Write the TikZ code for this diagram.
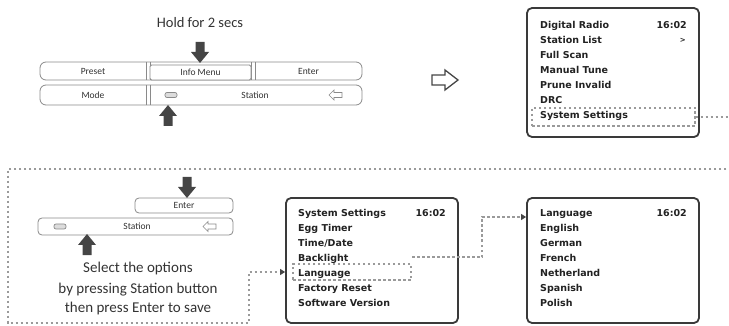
\documentclass[tikz,border=0pt]{standalone}
\usepackage{fontspec}
\setmainfont{Carlito}
\newfontfamily\menufont{DejaVu Sans}
\usetikzlibrary{arrows.meta}
\definecolor{arrowc}{HTML}{454545}
\definecolor{btnc}{HTML}{8A8A8A}
\definecolor{boxc}{HTML}{3A3A3A}
\definecolor{dotc}{HTML}{9A9A9A}
\definecolor{txtc}{HTML}{333333}
\definecolor{menuc}{HTML}{222222}
\begin{document}
\begin{tikzpicture}[x=1pt,y=-1pt,
  btn/.style={draw=btnc, line width=0.8pt, fill=white},
  btnlabel/.style={font=\fontsize{9.5}{12}\selectfont, text=txtc, inner sep=0pt},
  icon/.style={draw=btnc, line width=0.7pt},
  menubox/.style={draw=boxc, line width=1.8pt, rounded corners=5pt, fill=white, inner sep=0pt},
  menutext/.style={font=\menufont\bfseries\fontsize{9.5}{11}\selectfont, text=menuc, anchor=base west, inner sep=0pt},
  menutime/.style={menutext, anchor=base east},
  hlbox/.style={draw=dotc, line width=1.1pt, dash pattern=on 2.5pt off 2.5pt, inner sep=0pt},
  link/.style={draw=dotc, line width=1.1pt, dash pattern=on 2.5pt off 2.5pt, -{Triangle[length=5pt,width=6pt,color=arrowc]}},
  bigtext/.style={font=\fontsize{15}{20}\selectfont, text=txtc, align=center, inner sep=0pt},
  dnarrow/.pic={\fill[arrowc] (-4.5,-10) -- (4.5,-10) -- (4.5,0) -- (9,0) -- (0,11) -- (-9,0) -- (-4.5,0) -- cycle;},
  larrow/.pic={\draw[icon, fill=white] (-7,0) -- (-2,-5) -- (-2,-2.5) -- (6,-2.5) -- (6,2.5) -- (-2,2.5) -- (-2,5) -- cycle;},
  pill/.pic={\draw[icon, fill=btnc!30, rounded corners=2pt] (-6,-2.5) rectangle (6,2.5);},
  hollowr/.pic={\draw[arrowc, line width=1.3pt, line join=miter] (-13,-5) -- (0,-5) -- (0,-10) -- (13,0) -- (0,10) -- (0,5) -- (-13,5) -- cycle;}
]
\useasboundingbox (0,0) rectangle (729,326);
\clip (0,0) rectangle (729,326);

% ---------- top-left: buttons ----------
\node[font=\fontsize{14.5}{18}\selectfont, text=txtc, inner sep=0pt] (hold) at (200,23) {Hold for 2 secs};

\draw[btn, rounded corners=6pt] (40,62) rectangle (362,80);
\draw[btn] (146,62) -- (146,80) (150,62) -- (150,80) (251,62) -- (251,80) (255,62) -- (255,80);
\draw[btn, rounded corners=1.5pt] (150,65) rectangle (251,80);
\node[btnlabel] (preset) at (93,71.5) {Preset};
\node[btnlabel] (info) at (200.5,72) {Info Menu};
\node[btnlabel] (enter1) at (308.5,71.5) {Enter};

\draw[btn, rounded corners=6pt] (40,85) rectangle (362,105);
\draw[btn] (146,85) -- (146,105) (150,85) -- (150,105);
\node[btnlabel] (mode) at (93,95.5) {Mode};
\node[btnlabel] (station1) at (255,95.5) {Station};
\pic at (171,95) {pill};
\pic at (336,95) {larrow};

\pic at (200,52) {dnarrow};
\pic[rotate=180] at (168,116) {dnarrow};

% hollow arrow between panels
\pic at (445,80) {hollowr};

% ---------- menu 1 ----------
\node[menubox, minimum width=172pt, minimum height=129pt] (m1) at (613,72.5) {};
\node[hlbox, minimum width=163pt, minimum height=18pt] (hl1) at (613.5,117) {};
\node[menutext] (m1r1) at (540,28.5) {Digital Radio};
\node[menutime] (m1t) at (687,28.5) {16:02};
\node[menutext] (m1r2) at (540,43.5) {Station List};
\node[menutime, font=\menufont\bfseries\fontsize{7}{9}\selectfont] (m1gt) at (686,42.5) {>};
\node[menutext] (m1r3) at (540,58.5) {Full Scan};
\node[menutext] (m1r4) at (540,73.5) {Manual Tune};
\node[menutext] (m1r5) at (540,88.5) {Prune Invalid};
\node[menutext] (m1r6) at (540,103.5) {DRC};
\node[menutext] (m1r7) at (540,118.5) {System Settings};

% ---------- bottom-left: buttons ----------
\draw[btn, rounded corners=4pt] (135,198) rectangle (233,213);
\node[btnlabel] (enter2) at (184,205.5) {Enter};
\draw[btn, rounded corners=4pt] (38,218) rectangle (233,235);
\node[btnlabel] (station2) at (137,226.5) {Station};
\pic at (60,226.5) {pill};
\pic at (210,226.5) {larrow};
\pic at (187,187) {dnarrow};
\pic[rotate=180] at (87,245) {dnarrow};
\node[bigtext] (select) at (138,289) {Select the options\\by pressing Station button\\then press Enter to save};

% ---------- menu 2 ----------
\node[menubox, minimum width=172pt, minimum height=125pt] (m2) at (372,260.5) {};
\node[hlbox, minimum width=118pt, minimum height=16pt] (hl2) at (352,272) {};
\node[menutext] (m2r1) at (298,216.5) {System Settings};
\node[menutime] (m2t) at (446,216.5) {16:02};
\node[menutext] (m2r2) at (298,231.5) {Egg Timer};
\node[menutext] (m2r3) at (298,246.5) {Time/Date};
\node[menutext] (m2r4) at (298,261.5) {Backlight};
\node[menutext] (m2r5) at (298,276.5) {Language};
\node[menutext] (m2r6) at (298,291.5) {Factory Reset};
\node[menutext] (m2r7) at (298,306.5) {Software Version};

% ---------- menu 3 ----------
\node[menubox, minimum width=172pt, minimum height=125pt] (m3) at (613,260.5) {};
\node[menutext] (m3r1) at (540,216.5) {Language};
\node[menutime] (m3t) at (687,216.5) {16:02};
\node[menutext] (m3r2) at (540,231.5) {English};
\node[menutext] (m3r3) at (540,246.5) {German};
\node[menutext] (m3r4) at (540,261.5) {French};
\node[menutext] (m3r5) at (540,276.5) {Netherland};
\node[menutext] (m3r6) at (540,291.5) {Spanish};
\node[menutext] (m3r7) at (540,306.5) {Polish};

% ---------- connectors ----------
\coordinate (c1a) at (740,117);
\coordinate (c1b) at (740,169);
\coordinate (c1c) at (8,169);
\coordinate (c1d) at (8,323);
\coordinate (c1e) at (249,323);
\coordinate (c1f) at (249,272);
\draw[link] (hl1.east) -- (c1a) -- (c1b) -- (c1c) -- (c1d) -- (c1e) -- (c1f) -- (m2.west |- c1f);

\coordinate (c2s) at (412,257);
\coordinate (c2a) at (482,257);
\coordinate (c2b) at (482,217);
\draw[link] (c2s) -- (c2a) -- (c2b) -- (m3.west |- c2b);
\end{tikzpicture}
\end{document}
